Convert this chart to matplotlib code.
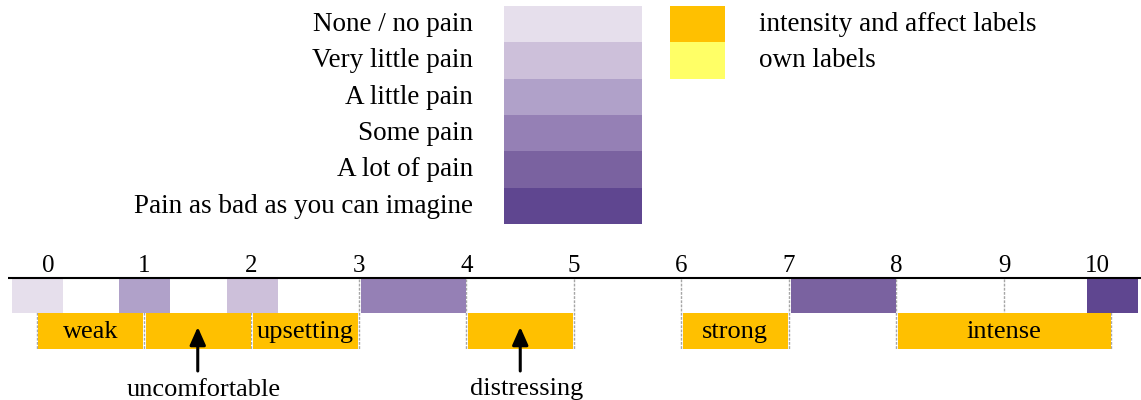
import matplotlib
matplotlib.use('Agg')
import matplotlib.pyplot as plt
from matplotlib.patches import Rectangle

plt.rcParams['font.family'] = ['Liberation Serif', 'DejaVu Serif']

# pain levels, light to dark
levels = ['None / no pain', 'Very little pain', 'A little pain', 'Some pain',
          'A lot of pain', 'Pain as bad as you can imagine']
level_colors = ['#e6dfec', '#cdc0da', '#b0a1c9', '#9580b5', '#7a62a0', '#5f4690']

# second key
key_labels = ['intensity and affect labels', 'own labels']
key_colors = ['#ffc000', '#ffff66']

ticks = list(range(11))

# top row of the scale: (start, end, level index)
level_cells = [(-0.25, 0.25, 0), (0.75, 1.25, 2), (1.75, 2.25, 1),
               (3, 4, 3), (7, 8, 4), (9.75, 10.25, 5)]

# bottom row: (start, end, word)
word_cells = [(0, 1, 'weak'), (1, 2, ''), (2, 3, 'upsetting'),
              (4, 5, ''), (6, 7, 'strong'), (8, 10, 'intense')]

# words pointed at from below: (x, word)
pointers = [(1.5, 'uncomfortable'), (4.5, 'distressing')]

W, H = 1141, 400
fig = plt.figure(figsize=(W / 100, H / 100), dpi=100)

# keys, drawn in pixel units
lg = fig.add_axes([0, 0, 1, 1])
lg.set_xlim(0, W)
lg.set_ylim(H, 0)
lg.axis('off')

row_h = 36.3
top = 6
for i, (lab, c) in enumerate(zip(levels, level_colors)):
    y0 = top + i * row_h
    lg.add_patch(Rectangle((504, y0), 138, row_h, facecolor=c, lw=0))
    lg.text(473, y0 + row_h / 2 + 0.5, lab, ha='right', va='center', fontsize=19.5)

for i, (lab, c) in enumerate(zip(key_labels, key_colors)):
    y0 = top + i * row_h
    lg.add_patch(Rectangle((670, y0), 55, row_h, facecolor=c, lw=0))
    lg.text(759, y0 + row_h / 2 + 0.5, lab, ha='left', va='center', fontsize=19.5)

# the 0-10 scale, x in scale units
unit = 107.5
x0px = 36.5
ax = fig.add_axes([0, 0, 1, 1])
ax.set_xlim(-x0px / unit, (W - x0px) / unit)
ax.set_ylim(H, 0)
ax.axis('off')
ax.patch.set_alpha(0)

line_y = 277.5
row1 = (278.5, 312.8)
row2 = (313.2, 349)
gap_l, gap_r = 0.018, 0.008

ax.vlines(ticks, row1[0], row2[1], colors='#a6a6a6', linestyles=(0, (2, 1)),
          lw=1, zorder=1)

for s, e, k in level_cells:
    ax.add_patch(Rectangle((s + gap_l, row1[0]), e - s - gap_l - gap_r,
                           row1[1] - row1[0], facecolor=level_colors[k], lw=0,
                           zorder=2))

for s, e, w in word_cells:
    ax.add_patch(Rectangle((s + gap_l, row2[0]), e - s - gap_l - gap_r,
                           row2[1] - row2[0], facecolor=key_colors[0], lw=0,
                           zorder=2))
    if w:
        ax.text((s + e) / 2, (row2[0] + row2[1]) / 2 + 1, w, ha='center',
                va='center', fontsize=19, zorder=3)

ax.hlines(line_y, -0.265, ax.get_xlim()[1], colors='black', lw=1.5, zorder=3)

for t in ticks:
    shift = 0.11 if t == ticks[0] else (-0.135 if t == ticks[-1] else 0)
    ax.text(t + shift, 272, str(t), ha='center', va='baseline', fontsize=18)

for x, w in pointers:
    ax.annotate('', xy=(x, 327), xytext=(x, 371),
                arrowprops=dict(arrowstyle='-|>,head_length=0.9,head_width=0.4',
                                mutation_scale=12, lw=2.2, color='black',
                                shrinkA=0, shrinkB=0), zorder=4)
    ax.text(x + 0.06, 395.5, w, ha='center', va='baseline', fontsize=19)

fig.savefig('out.png', dpi=100)
